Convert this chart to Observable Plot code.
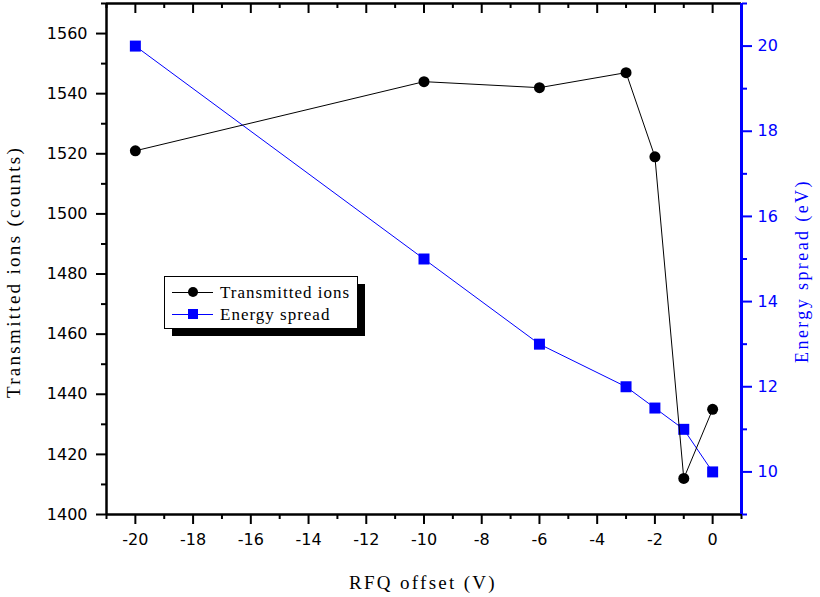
<!DOCTYPE html>
<html>
<head>
<meta charset="utf-8">
<script src="https://cdn.jsdelivr.net/npm/d3@7"></script>
<script src="https://cdn.jsdelivr.net/npm/@observablehq/plot@0.6"></script>
<style>
  html, body { margin: 0; padding: 0; background: #fff; }
  #chart { width: 820px; height: 597px; }
</style>
</head>
<body>
<div id="chart"></div>
<script>
// ---- data ----
const rfqOffset = [-20, -10, -6, -3, -2, -1, 0];
const transmittedIons = [1521, 1544, 1542, 1547, 1519, 1412, 1435];
const energySpread = [20, 15, 13, 12, 11.5, 11, 10];

// ---- ticks ----
const xMajor = [-20, -18, -16, -14, -12, -10, -8, -6, -4, -2, 0];
const xMinor = [-21, -19, -17, -15, -13, -11, -9, -7, -5, -3, -1, 1];
const yLeftMajor = [1400, 1420, 1440, 1460, 1480, 1500, 1520, 1540, 1560];
const yLeftMinor = [1410, 1430, 1450, 1470, 1490, 1510, 1530, 1550, 1570];
const yRightMajor = [10, 12, 14, 16, 18, 20];
const yRightMinor = [9, 11, 13, 15, 17, 19, 21];

const xDomain = [-21, 1];
const leftDomain = [1400, 1570];
const rightDomain = [9, 21];
const blue = "#0000ff";

// map right-axis values onto the left scale
const toLeft = v => leftDomain[0] + (v - rightDomain[0]) * (leftDomain[1] - leftDomain[0]) / (rightDomain[1] - rightDomain[0]);
const fromLeft = v => Math.round(rightDomain[0] + (v - leftDomain[0]) * (rightDomain[1] - rightDomain[0]) / (leftDomain[1] - leftDomain[0]));

const ionsData = rfqOffset.map((x, i) => ({x, y: transmittedIons[i]}));
const spreadData = rfqOffset.map((x, i) => ({x, y: toLeft(energySpread[i])}));

const chart = Plot.plot({
  width: 820,
  height: 597,
  marginLeft: 106,
  marginRight: 79,
  marginTop: 3,
  marginBottom: 83,
  x: {domain: xDomain},
  y: {domain: leftDomain},
  style: {fontFamily: "DejaVu Sans", fontSize: "16px", background: "white", overflow: "visible", color: "black"},
  marks: [
    // bottom axis
    Plot.axisX(xMajor, {anchor: "bottom", tickSize: 10, tickPadding: 9, strokeWidth: 2, tickFormat: d => String(d), label: null}),
    Plot.axisX(xMinor, {anchor: "bottom", tickSize: 5, strokeWidth: 2, tickFormat: () => "", label: null}),
    // top inward ticks
    Plot.axisX(xMajor, {anchor: "bottom", frameAnchor: "top", tickSize: 10, strokeWidth: 2, tickFormat: () => "", label: null}),
    Plot.axisX(xMinor, {anchor: "bottom", frameAnchor: "top", tickSize: 5, strokeWidth: 2, tickFormat: () => "", label: null}),
    // left axis
    Plot.axisY(yLeftMajor, {anchor: "left", tickSize: 10, tickPadding: 9, strokeWidth: 2, tickFormat: d => String(d), label: null}),
    Plot.axisY(yLeftMinor, {anchor: "left", tickSize: 5, strokeWidth: 2, tickFormat: () => "", label: null}),
    // right axis (blue)
    Plot.axisY(yRightMajor.map(toLeft), {anchor: "right", tickSize: 10, tickPadding: 6, strokeWidth: 2, color: blue, tickFormat: d => String(fromLeft(d)), label: null}),
    Plot.axisY(yRightMinor.map(toLeft), {anchor: "right", tickSize: 5, strokeWidth: 2, color: blue, tickFormat: () => "", label: null}),
    // frame
    Plot.ruleY([leftDomain[0]], {x1: xDomain[0], x2: xDomain[1], stroke: "black", strokeWidth: 2.5}),
    Plot.ruleY([leftDomain[1]], {x1: xDomain[0], x2: xDomain[1], stroke: "black", strokeWidth: 2.5}),
    Plot.ruleX([xDomain[0]], {y1: leftDomain[0], y2: leftDomain[1], stroke: "black", strokeWidth: 2.5}),
    Plot.ruleX([xDomain[1]], {y1: leftDomain[0], y2: leftDomain[1], stroke: blue, strokeWidth: 3}),
    // series
    Plot.line(spreadData, {x: "x", y: "y", stroke: blue, strokeWidth: 1}),
    Plot.dot(spreadData, {x: "x", y: "y", symbol: "square", r: 6.2, fill: blue, stroke: "none"}),
    Plot.line(ionsData, {x: "x", y: "y", stroke: "black", strokeWidth: 1}),
    Plot.dot(ionsData, {x: "x", y: "y", symbol: "circle", r: 5.5, fill: "black", stroke: "none"})
  ]
});

document.getElementById("chart").appendChild(chart);

const svg = d3.select(chart);
const serif = "'Liberation Serif', 'Times New Roman', serif";

// axis titles
svg.append("text")
  .attr("x", 423).attr("y", 589)
  .attr("text-anchor", "middle")
  .style("font-family", serif).style("font-size", "19px").style("letter-spacing", "2.3px")
  .attr("fill", "black")
  .text("RFQ offset (V)");

svg.append("text")
  .attr("transform", "translate(20,272) rotate(-90)")
  .attr("text-anchor", "middle")
  .style("font-family", serif).style("font-size", "19px").style("letter-spacing", "2.3px")
  .attr("fill", "black")
  .text("Transmitted ions (counts)");

svg.append("text")
  .attr("transform", "translate(808,271) rotate(-90)")
  .attr("text-anchor", "middle")
  .style("font-family", serif).style("font-size", "18px").style("letter-spacing", "2.4px")
  .attr("fill", blue)
  .text("Energy spread (eV)");

// legend
const lg = svg.append("g").attr("text-anchor", "start");
lg.append("rect").attr("x", 172).attr("y", 284).attr("width", 193).attr("height", 52).attr("fill", "black").attr("stroke", "none");
lg.append("rect").attr("x", 164.5).attr("y", 276.5).attr("width", 193).attr("height", 52).attr("fill", "white").attr("stroke", "black").attr("stroke-width", 1);
const items = [
  {label: "Transmitted ions", color: "black", shape: "circle", y: 292},
  {label: "Energy spread", color: blue, shape: "square", y: 314}
];
items.forEach(it => {
  lg.append("line").attr("x1", 172).attr("x2", 213).attr("y1", it.y + 0.5).attr("y2", it.y + 0.5)
    .style("stroke", it.color).style("stroke-width", "1px");
  if (it.shape === "circle") {
    lg.append("circle").attr("cx", 193).attr("cy", it.y).attr("r", 5).attr("fill", it.color).attr("stroke", "none");
  } else {
    lg.append("rect").attr("x", 188).attr("y", it.y - 5).attr("width", 10).attr("height", 10).attr("fill", it.color).attr("stroke", "none");
  }
  lg.append("text").attr("x", 220).attr("y", it.y + 6)
    .attr("text-anchor", "start")
    .style("font-family", serif).style("font-size", "17px").style("letter-spacing", "1px")
    .attr("fill", "black").attr("stroke", "none")
    .text(it.label);
});
</script>
</body>
</html>
